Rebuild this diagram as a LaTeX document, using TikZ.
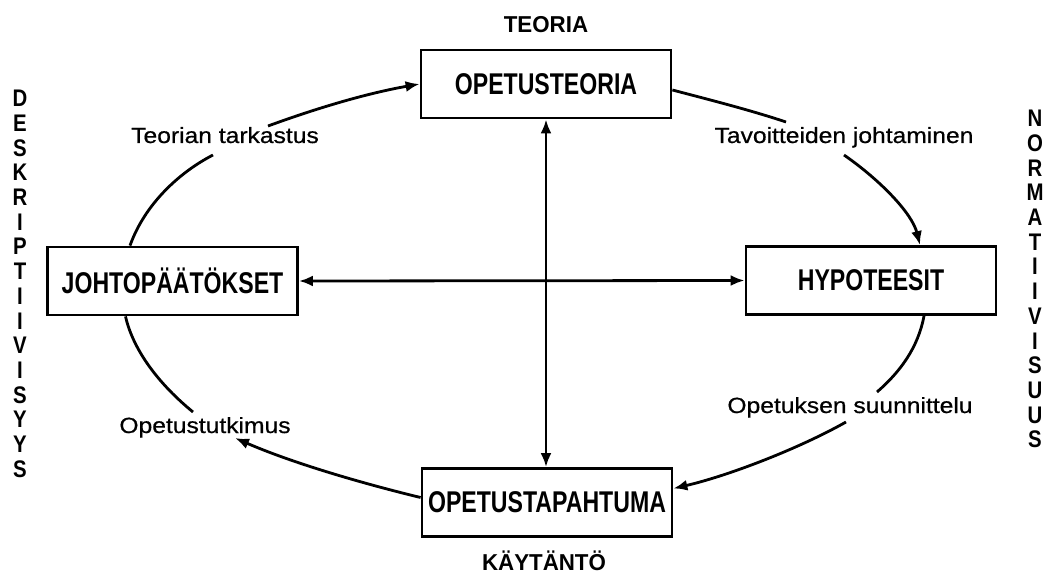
\documentclass[tikz,border=0pt]{standalone}
\usepackage{fontspec}
\setmainfont{Liberation Sans}
\newfontfamily\lblfont[FakeStretch=1.12,FakeBold=0.6]{Liberation Sans}
\newfontfamily\boxfont[FakeStretch=0.77]{Liberation Sans}
\newfontfamily\axfont[FakeStretch=0.97]{Liberation Sans}
\newfontfamily\vfont[FakeStretch=0.85]{Liberation Sans}
\usetikzlibrary{arrows.meta}
\begin{document}
\begin{tikzpicture}[x=1pt,y=-1pt,
  box/.style={draw, line width=2.8pt, minimum width=250pt, minimum height=68pt, inner sep=0pt, font=\boxfont\bfseries\fontsize{30}{30}\selectfont},
  lbl/.style={anchor=base, inner sep=0pt, font=\lblfont\fontsize{22}{22}\selectfont},
  ax/.style={anchor=base, inner sep=0pt, font=\axfont\bfseries\fontsize{23}{23}\selectfont},
  vert/.style={anchor=north, inner sep=0pt, align=center, font=\vfont\bfseries\fontsize{24}{24.7}\selectfont},
  curve/.style={line width=2.8pt},
  con/.style={line width=2.8pt, -{Latex[length=14pt,width=11pt]}},
  dcon/.style={line width=2.8pt, {Latex[length=14pt,width=11pt]}-{Latex[length=14pt,width=11pt]}}
]
\fill[white] (0,0) rectangle (1048,580);
\useasboundingbox (0,0) rectangle (1048,580);

% boxes
\node[box] (T) at (546,84) {OPETUSTEORIA};
\node[box] (L) at (172.5,281) {JOHTOPÄÄTÖKSET};
\node[box] (R) at (871,280.5) {HYPOTEESIT};
\node[box] (B) at (547,502.5) {OPETUSTAPAHTUMA};

% axis labels
\node[ax] (teoria) at (546,33) {TEORIA};
\node[ax] (kaytanto) at (544,570) {KÄYTÄNTÖ};
\node[vert] (desk) at (20,90) {D\\E\\S\\K\\R\\I\\P\\T\\I\\I\\V\\I\\S\\Y\\Y\\S};
\node[vert] (norm) at (1035,110) {N\\O\\R\\M\\A\\T\\I\\I\\V\\I\\S\\U\\U\\S};

% cycle labels
\node[lbl] (tt) at (225,143) {Teorian tarkastus};
\node[lbl] (tj) at (844,143) {Tavoitteiden johtaminen};
\node[lbl] (os) at (850,413) {Opetuksen suunnittelu};
\node[lbl] (ot) at (205,433) {Opetustutkimus};

% cross arrows
\draw[dcon] (T.south) -- (T.south |- B.north);
\draw[dcon] (L.east) -- (R.west);

% cycle
\draw[curve] ([xshift=-42.5pt]L.north) .. controls +(15,-42) and +(-33,17) .. ([xshift=-12pt,yshift=-12pt]tt.base);
\draw[con] ([xshift=43pt,yshift=17pt]tt.base) .. controls +(52,-19) and +(-51,9) .. (T.west);

\draw[curve] ([yshift=-6pt]T.east) .. controls +(38,10) and +(-36,-12) .. ([xshift=-58pt,yshift=21pt]tj.base);
\draw[con] ([yshift=-12pt]tj.base) .. controls +(36,25) and +(-8,-32) .. ([xshift=49pt]R.north);

\draw[curve] ([xshift=53pt]R.south) .. controls +(-6,32) and +(23,-20) .. ([xshift=27pt,yshift=21pt]os.base);
\draw[con] ([xshift=-4pt,yshift=-9pt]os.base) .. controls +(-46,26) and +(56,-13) .. ([yshift=14pt]B.east);

\draw[con] ([yshift=5pt]B.west) .. controls +(-62,-15) and +(55,24) .. ([xshift=30pt,yshift=-5pt]ot.base);
\draw[curve] ([xshift=-12pt,yshift=21pt]ot.base) .. controls +(-33,-27) and +(8,35) .. ([xshift=-47pt]L.south);
\end{tikzpicture}
\end{document}
